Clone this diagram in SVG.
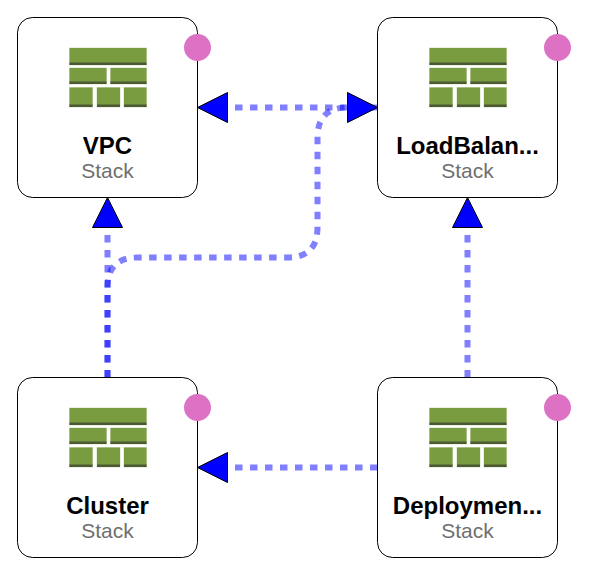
<svg xmlns="http://www.w3.org/2000/svg" width="590" height="575" viewBox="0 0 590 575">
<style>
.box{fill:#fff;stroke:#000;stroke-width:1}
.dot{fill:#dd71c4}
.g{fill:#7a9c40;stroke:#7a9c40;stroke-opacity:.3;stroke-width:1}
.d{fill:#4c5a34}
.title{font:bold 24px "Liberation Sans",Arial,sans-serif;text-anchor:middle;fill:#000}
.sub{font:21px "Liberation Sans",Arial,sans-serif;text-anchor:middle;fill:#6f6f6f}
.edge{fill:none;stroke:#0000ff;stroke-opacity:.5;stroke-width:6;stroke-dasharray:7.5 7.5}
.head{fill:#0000ff;stroke:#000;stroke-width:1}
</style>
<defs>
<g id="icon">
<rect class="g" x="69.5" y="48" width="77" height="17"/><rect class="d" x="69.5" y="62.5" width="77" height="2.5"/>
<rect class="g" x="69.5" y="68" width="37" height="16"/><rect class="d" x="69.5" y="81.5" width="37" height="2.5"/>
<rect class="g" x="110.5" y="68" width="36" height="16"/><rect class="d" x="110.5" y="81.5" width="36" height="2.5"/>
<rect class="g" x="69.5" y="87.5" width="23" height="19.5"/><rect class="d" x="69.5" y="104.5" width="23" height="2.5"/>
<rect class="g" x="97" y="87.5" width="23" height="19.5"/><rect class="d" x="97" y="104.5" width="23" height="2.5"/>
<rect class="g" x="124" y="87.5" width="22.5" height="19.5"/><rect class="d" x="124" y="104.5" width="22.5" height="2.5"/>
</g>
</defs>
<g id="connectors">
<path class="edge" d="M377.5 107.5H227.5"/>
<path class="edge" d="M107.5 377.5V227.5"/>
<path class="edge" d="M467.5 377.5V227.5"/>
<path class="edge" d="M377.5 467.5H227.5"/>
<path class="edge" d="M107.5 377.5V287.5Q107.5 257.5 137.5 257.5H287.5Q317.5 257.5 317.5 227.5V137.5Q317.5 107.5 347.5 107.5"/>
<polygon class="head" points="197.5,107.5 227.5,92.5 227.5,122.5"/>
<polygon class="head" points="107.5,197.5 122.5,227.5 92.5,227.5"/>
<polygon class="head" points="467.5,197.5 482.5,227.5 452.5,227.5"/>
<polygon class="head" points="197.5,467.5 227.5,452.5 227.5,482.5"/>
<polygon class="head" points="377.5,107.5 347.5,92.5 347.5,122.5"/>
</g>
<g id="vpc">
<rect class="box" x="17.5" y="17.5" width="180" height="180" rx="15"/>
<use href="#icon"/>
<text class="title" x="107.5" y="154">VPC</text><text class="sub" x="107.5" y="178">Stack</text>
<circle class="dot" cx="197.5" cy="47.5" r="13.5"/>
</g>
<g id="loadbalancer">
<rect class="box" x="377.5" y="17.5" width="180" height="180" rx="15"/>
<use href="#icon" x="360"/>
<text class="title" x="467.5" y="154">LoadBalan...</text><text class="sub" x="467.5" y="178">Stack</text>
<circle class="dot" cx="557.5" cy="47.5" r="13.5"/>
</g>
<g id="cluster">
<rect class="box" x="17.5" y="377.5" width="180" height="180" rx="15"/>
<use href="#icon" y="360"/>
<text class="title" x="107.5" y="514">Cluster</text><text class="sub" x="107.5" y="538">Stack</text>
<circle class="dot" cx="197.5" cy="407.5" r="13.5"/>
</g>
<g id="deployment">
<rect class="box" x="377.5" y="377.5" width="180" height="180" rx="15"/>
<use href="#icon" x="360" y="360"/>
<text class="title" x="467.5" y="514">Deploymen...</text><text class="sub" x="467.5" y="538">Stack</text>
<circle class="dot" cx="557.5" cy="407.5" r="13.5"/>
</g>
</svg>
